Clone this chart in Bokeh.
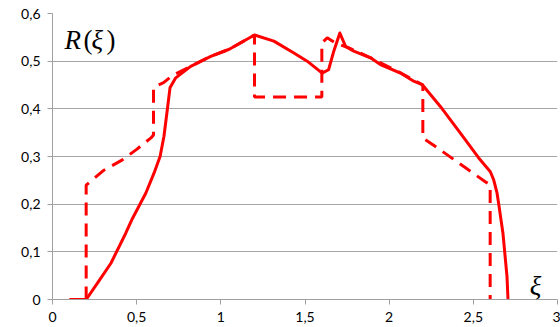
from bokeh.plotting import figure
from bokeh.models import ColumnDataSource, FixedTicker, CustomJSTickFormatter, Label, Range1d
from bokeh.embed import file_html
from bokeh.resources import INLINE

# ---- data ----
x_ticks = [0, 0.5, 1, 1.5, 2, 2.5, 3]
y_ticks = [0, 0.1, 0.2, 0.3, 0.4, 0.5, 0.6]

solid_x = [0.1, 0.2, 0.27, 0.347, 0.435, 0.475, 0.554, 0.603, 0.639, 0.662, 0.682, 0.698,
           0.732, 0.821, 0.94, 1.05, 1.2, 1.315, 1.434, 1.513, 1.602, 1.64, 1.671, 1.707,
           1.741, 1.79, 1.889, 1.948, 2.067, 2.146, 2.196, 2.304, 2.423, 2.532, 2.601,
           2.621, 2.641, 2.651, 2.676, 2.7, 2.706]
solid_y = [0.0, 0.0, 0.036, 0.076, 0.139, 0.17, 0.223, 0.265, 0.3, 0.342, 0.398, 0.444,
           0.465, 0.489, 0.51, 0.525, 0.555, 0.542, 0.517, 0.5, 0.475, 0.482, 0.521, 0.559,
           0.531, 0.521, 0.507, 0.493, 0.475, 0.458, 0.451, 0.405, 0.349, 0.297, 0.268,
           0.251, 0.223, 0.2, 0.139, 0.048, 0.0]

dash_x = [0.2, 0.2, 0.3, 0.415, 0.5, 0.585, 0.6, 0.6, 0.66, 0.712, 0.82, 0.94, 1.05, 1.2,
          1.2, 1.6, 1.6, 1.632, 1.68, 1.76, 1.89, 2.07, 2.2, 2.2, 2.275, 2.443, 2.571, 2.6,
          2.6]
dash_y = [0.0, 0.24, 0.27, 0.293, 0.315, 0.339, 0.345, 0.445, 0.455, 0.47, 0.489, 0.51,
          0.525, 0.555, 0.425, 0.425, 0.538, 0.549, 0.538, 0.528, 0.507, 0.475, 0.45, 0.339,
          0.321, 0.279, 0.247, 0.24, 0.0]

p = figure(width=560, height=327, output_backend="svg", toolbar_location=None,
           x_range=Range1d(0, 3), y_range=Range1d(0, 0.6),
           min_border_left=52, min_border_right=3, min_border_top=13, min_border_bottom=28)
p.outline_line_color = None
p.background_fill_color = "white"
p.border_fill_color = "white"
p.xgrid.visible = False
p.ygrid.grid_line_color = "#a6a6a6"
p.ygrid.grid_line_width = 1

fmt = CustomJSTickFormatter(code="return (Math.round(tick*10)/10).toString().replace('.', ',');")
for ax, ticks in ((p.xaxis[0], x_ticks), (p.yaxis[0], y_ticks)):
    ax.ticker = FixedTicker(ticks=ticks)
    ax.formatter = fmt
    ax.axis_line_color = "#a0a0a0"
    ax.major_tick_line_color = "#a0a0a0"
    ax.major_tick_out = 5
    ax.major_tick_in = 0
    ax.minor_tick_line_color = None
    ax.major_label_text_font = "Lato"
    ax.major_label_text_font_size = "14px"
    ax.major_label_text_color = "black"
p.xaxis.major_label_standoff = 7
p.yaxis.major_label_standoff = 7

src_s = ColumnDataSource(dict(x=solid_x, y=solid_y))
src_d = ColumnDataSource(dict(x=dash_x, y=dash_y))
p.line("x", "y", source=src_d, line_color="#ff0000", line_width=3, line_dash="13 8")
p.line("x", "y", source=src_s, line_color="#ff0000", line_width=3, line_join="round")

serif = "Liberation Serif"
parts = [("R", "italic", 0), ("(", "normal", 19), ("\u03be", "italic", 27), (")", "normal", 42)]
for t, style, off in parts:
    p.add_layout(Label(x=0.071, y=0.545, text=t, x_offset=off, text_font=serif,
                       text_font_style=style, text_font_size="27px", text_color="black",
                       text_baseline="alphabetic", text_align="left"))
p.add_layout(Label(x=2.835, y=0.028, text="\u03be", text_font=serif, text_font_style="italic",
                   text_font_size="27px", text_color="black", text_baseline="alphabetic",
                   text_align="left"))

open("out.html", "w").write(file_html(p, INLINE))
